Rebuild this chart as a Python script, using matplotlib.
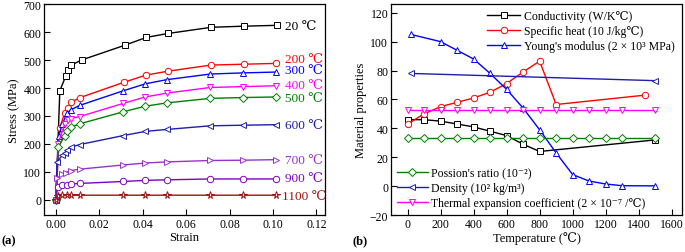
import matplotlib
matplotlib.use("Agg")
import matplotlib.pyplot as plt

plt.rcParams['font.family'] = ['Liberation Serif', 'DejaVu Serif']
plt.rcParams['font.size'] = 8.5

# ---------------- Panel (a) data ----------------
temps_a = ['20', '200', '300', '400', '500', '600', '700', '900', '1100']
strain_20 = [0.0, 0.0018, 0.0045, 0.0054, 0.0071, 0.0118, 0.0318, 0.0417, 0.0518, 0.0716, 0.0867, 0.1019]
stress_20 = [0, 390, 442, 464, 482, 500, 553, 581, 595, 617, 621, 624]
strain_200 = [0.0, 0.0018, 0.0040, 0.0054, 0.0071, 0.0112, 0.0312, 0.0414, 0.0515, 0.0714, 0.0865, 0.1015]
stress_200 = [0, 258, 310, 330, 350, 366, 420, 446, 460, 482, 485, 488]
strain_300 = [0.0, 0.0012, 0.0030, 0.0050, 0.0068, 0.0110, 0.0310, 0.0412, 0.0512, 0.0712, 0.0862, 0.1012]
stress_300 = [0, 230, 270, 310, 322, 338, 390, 415, 430, 450, 454, 457]
strain_400 = [0.0, 0.0010, 0.0040, 0.0055, 0.0068, 0.0110, 0.0310, 0.0412, 0.0512, 0.0712, 0.0862, 0.1012]
stress_400 = [0, 200, 270, 285, 290, 298, 345, 368, 382, 402, 405, 408]
strain_500 = [0.0, 0.0010, 0.0040, 0.0052, 0.0068, 0.0110, 0.0310, 0.0412, 0.0512, 0.0712, 0.0862, 0.1012]
stress_500 = [0, 188, 228, 245, 260, 272, 315, 335, 347, 363, 366, 368]
strain_600 = [0.0, 0.0005, 0.0030, 0.0040, 0.0052, 0.0068, 0.0110, 0.0310, 0.0412, 0.0512, 0.0712, 0.0862, 0.1012]
stress_600 = [0, 137, 160, 168, 178, 188, 198, 230, 245, 252, 265, 267, 269]
strain_700 = [0.0, 0.0005, 0.0030, 0.0045, 0.0068, 0.0110, 0.0310, 0.0412, 0.0512, 0.0712, 0.0862, 0.1012]
stress_700 = [0, 78, 92, 98, 105, 110, 125, 132, 136, 141, 142, 144]
strain_900 = [0.0, 0.0008, 0.0030, 0.0050, 0.0068, 0.0110, 0.0310, 0.0412, 0.0512, 0.0712, 0.0862, 0.1012]
stress_900 = [0, 45, 52, 55, 57, 59, 66, 70, 72, 75, 75, 75]
strain_1100 = [0.0, 0.0010, 0.0030, 0.0050, 0.0068, 0.0110, 0.0310, 0.0412, 0.0512, 0.0712, 0.0862, 0.1012]
stress_1100 = [0, 15, 17, 17, 17, 17, 17, 17, 17, 17, 17, 17]

strains = [strain_20, strain_200, strain_300, strain_400, strain_500, strain_600, strain_700, strain_900, strain_1100]
stresses = [stress_20, stress_200, stress_300, stress_400, stress_500, stress_600, stress_700, stress_900, stress_1100]
colors_a = ['#000000', '#FF0000', '#0000FF', '#FF00FF', '#008000', '#1E1EAA', '#9932CC', '#7F00C8', '#A01010']
markers_a = ['s', 'o', '^', 'v', 'D', '<', '>', 'o', '*']
label_dy = [-2, 14, 7, 3, -4, -1, -1, 4, -3]

# ---------------- Panel (b) data ----------------
cond_T = [0, 100, 200, 300, 400, 500, 600, 700, 800, 1500]
cond_v = [46, 46, 45, 43, 41, 38, 35, 29, 24, 32]
cp_T = [0, 100, 200, 300, 400, 500, 600, 700, 800, 900, 1440]
cp_v = [43, 50, 55, 58, 61, 65, 71, 79, 86.5, 56.5, 63]
E_T = [20, 200, 300, 400, 500, 600, 700, 800, 900, 1000, 1100, 1200, 1300, 1500]
E_v = [105, 100, 94, 88, 78, 67, 54, 39, 23, 8, 3.5, 1.5, 0.3, 0.2]
dens_T = [20, 1500]
dens_v = [78, 73]
nu_T = [0, 100, 200, 300, 400, 500, 600, 700, 800, 900, 1000, 1100, 1200, 1300, 1500]
nu_v = [33] * 15
alpha_T = [0, 100, 200, 300, 400, 500, 600, 700, 800, 900, 1000, 1100, 1200, 1300, 1500]
alpha_v = [53] * 15

MS = 4.6

fig = plt.figure(figsize=(6.85, 2.53), dpi=100)
ax1 = fig.add_axes([0.0642, 0.146, 0.4103, 0.834])
ax2 = fig.add_axes([0.5708, 0.146, 0.4248, 0.834])

for xs, ys, c, m, t, dy in zip(strains, stresses, colors_a, markers_a, temps_a, label_dy):
    ax1.plot(xs, ys, color=c, marker=m, mfc='white', mec=c,
             ms=MS if m not in ('*', 'D') else (MS + 1 if m == '*' else MS - 0.5),
             lw=1.0, mew=0.7)
    ax1.text(0.1057 if t != '1100' else 0.1040, ys[-1] + dy, t + ' \u2103', color=c,
             fontsize=9.5, va='center', ha='left')

ax1.set_xlim(-0.0055, 0.124)
ax1.set_ylim(-54, 700)
ax1.set_xticks([0.00, 0.02, 0.04, 0.06, 0.08, 0.10, 0.12])
ax1.set_xticklabels(['0.00', '0.02', '0.04', '0.06', '0.08', '0.10', '0.12'])
ax1.set_yticks(range(0, 701, 100))
ax1.set_xlabel('Strain', fontsize=9, labelpad=1)
ax1.set_ylabel('Stress (MPa)', fontsize=9, labelpad=2)

ax2.plot(cond_T, cond_v, color='#000000', marker='s', mfc='white', ms=MS, lw=1.0, mew=0.7,
         label='Conductivity (W/K\u2103)')
ax2.plot(cp_T, cp_v, color='#FF0000', marker='o', mfc='white', ms=MS, lw=1.0, mew=0.7,
         label='Specific heat (10 J/kg\u2103)')
ax2.plot(E_T, E_v, color='#0000FF', marker='^', mfc='white', ms=MS, lw=1.0, mew=0.7,
         label="Young's modulus (2 \u00d7 10\u00b3 MPa)")
ax2.plot(nu_T, nu_v, color='#008000', marker='D', mfc='white', ms=MS - 0.5, lw=1.0, mew=0.7,
         label="Possion's ratio (10\u207b\u00b2)")
ax2.plot(dens_T, dens_v, color='#1E1EAA', marker='<', mfc='white', ms=MS, lw=1.0, mew=0.7,
         label='Density (10\u00b2 kg/m\u00b3)')
ax2.plot(alpha_T, alpha_v, color='#FF00FF', marker='v', mfc='white', ms=MS, lw=1.0, mew=0.7,
         label='Thermal expansion coefficient (2 \u00d7 10\u207b\u2077 /\u2103)')

hs, ls = ax2.get_legend_handles_labels()
leg1 = ax2.legend(hs[:3], ls[:3], loc='upper right', frameon=False, fontsize=8.5,
                  handlelength=2.8, handletextpad=0.3, labelspacing=0.25,
                  borderaxespad=0.1, bbox_to_anchor=(0.995, 1.0))
ax2.add_artist(leg1)
ax2.legend(hs[3:], ls[3:], loc='lower left', frameon=False, fontsize=8.5,
           handlelength=2.6, handletextpad=0.3, labelspacing=0.25,
           borderaxespad=0.1, bbox_to_anchor=(0.0, 0.0))

ax2.set_xlim(-100, 1662)
ax2.set_ylim(-20, 126)
ax2.set_xticks(range(0, 1601, 200))
ax2.set_yticks(range(-20, 121, 20))
ax2.set_xlabel('Temperature (\u2103)', fontsize=9, labelpad=1)
ax2.set_ylabel('Material properties', fontsize=9, labelpad=2)

for ax in (ax1, ax2):
    ax.tick_params(direction='in', length=4, width=0.8, labelsize=8.5, pad=2)
    for s in ax.spines.values():
        s.set_linewidth(0.9)

fig.text(0.002, 0.035, '(a)', fontsize=9, fontweight='bold')
fig.text(0.515, 0.035, '(b)', fontsize=9, fontweight='bold')

fig.savefig('out.png', dpi=100)
